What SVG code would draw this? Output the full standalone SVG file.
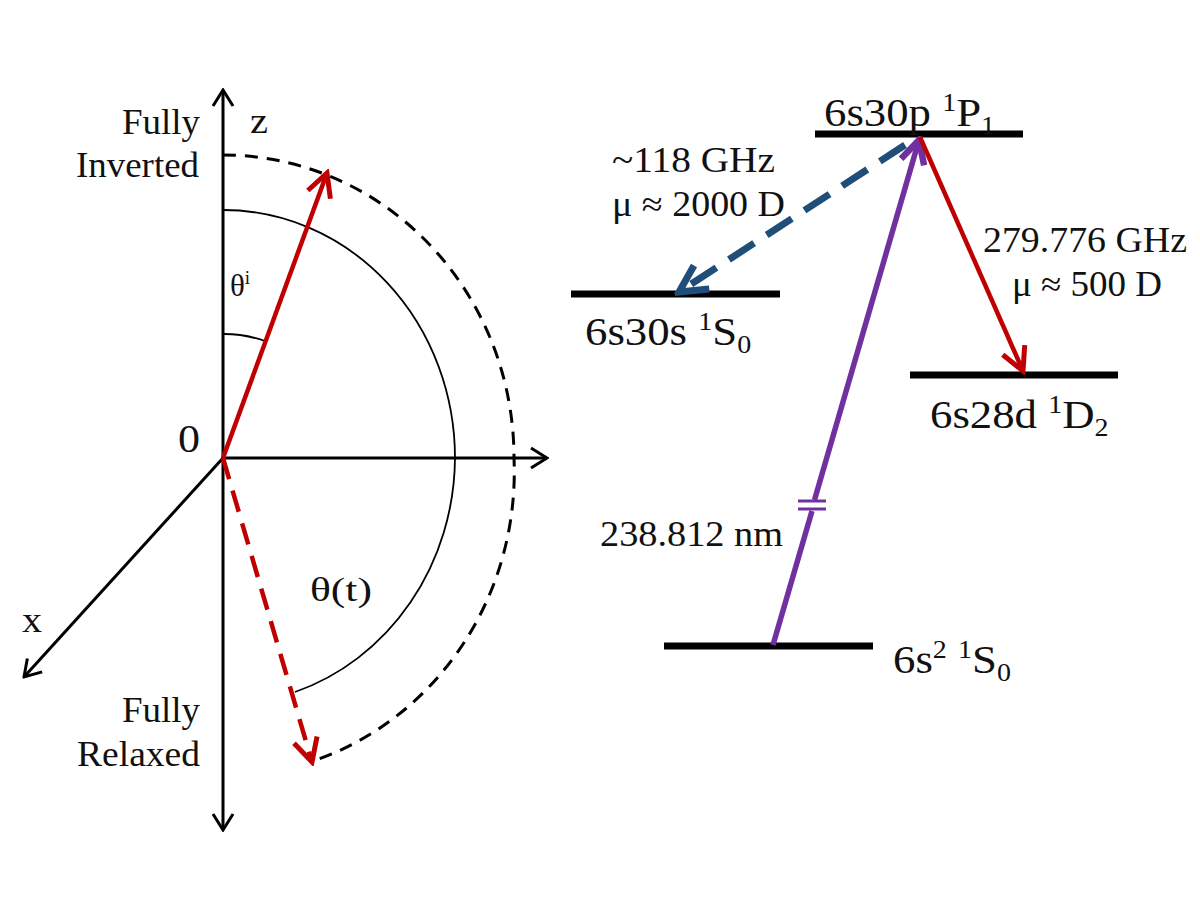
<svg xmlns="http://www.w3.org/2000/svg" width="1200" height="900" viewBox="0 0 1200 900">
<style>
text{font-family:"Liberation Serif","Times New Roman",serif;fill:#111}
.lab{font-size:35px}
.ann{font-size:35px}
.lvl{font-size:40px}
.sup{font-size:25px}
.axis{stroke:#000;stroke-width:3;fill:none}
.level{stroke:#000;stroke-width:7}
</style>
<defs>
<marker id="vk" viewBox="0 0 20 24" refX="18" refY="12" markerWidth="20" markerHeight="24" markerUnits="userSpaceOnUse" orient="auto-start-reverse">
<path d="M2,2 L18,12 L2,22" fill="none" stroke="#000" stroke-width="3"/>
</marker>
<marker id="vr" viewBox="0 0 30 30" refX="26" refY="15" markerWidth="30" markerHeight="30" markerUnits="userSpaceOnUse" orient="auto">
<path d="M3,3 L26,15 L3,27" fill="none" stroke="#c00000" stroke-width="5"/>
</marker>
<marker id="vp" viewBox="0 0 30 30" refX="26" refY="15" markerWidth="30" markerHeight="30" markerUnits="userSpaceOnUse" orient="auto">
<path d="M3,3 L26,15 L3,27" fill="none" stroke="#7030a0" stroke-width="6.5"/>
</marker>
<marker id="vb" viewBox="0 0 36 36" refX="31" refY="18" markerWidth="36" markerHeight="36" markerUnits="userSpaceOnUse" orient="auto">
<path d="M4,4 L31,18 L4,32" fill="none" stroke="#1f4e79" stroke-width="7"/>
</marker>
</defs>

<g id="bloch">
<g id="axes">
<line class="axis" x1="223" y1="90" x2="223" y2="830" marker-start="url(#vk)" marker-end="url(#vk)"/>
<line class="axis" x1="223" y1="458" x2="547" y2="458" marker-end="url(#vk)"/>
<line class="axis" x1="223" y1="458" x2="24" y2="677" marker-end="url(#vk)"/>
</g>
<path id="arc-outer" d="M223,155 A291,303 0 0 1 514,458 A291,304 0 0 1 316,760" fill="none" stroke="#000" stroke-width="3" stroke-dasharray="13,9"/>
<path id="arc-inner" d="M223,210 A232,248 0 0 1 455,458 A232,248 0 0 1 295,692" fill="none" stroke="#000" stroke-width="1.8"/>
<path id="arc-theta-i" d="M223,334 A124,124 0 0 1 265,341" fill="none" stroke="#000" stroke-width="1.8"/>
<line id="vec-initial" x1="223" y1="458" x2="327" y2="173" stroke="#c00000" stroke-width="4.5" marker-end="url(#vr)"/>
<line id="vec-final" x1="223" y1="458" x2="312" y2="762" stroke="#c00000" stroke-width="4.5" stroke-dasharray="22,12" marker-end="url(#vr)"/>
<text class="lab" x="122" y="134" textLength="78" lengthAdjust="spacingAndGlyphs">Fully</text>
<text class="lab" x="76" y="177" textLength="123" lengthAdjust="spacingAndGlyphs">Inverted</text>
<text class="lab" x="250" y="133" textLength="18" lengthAdjust="spacingAndGlyphs">z</text>
<text x="178" y="452" style="font-size:40px" textLength="22" lengthAdjust="spacingAndGlyphs">0</text>
<text x="230" y="296" style="font-size:31px">θ<tspan dy="-12" style="font-size:19px">i</tspan></text>
<text x="310" y="601" style="font-size:33px" textLength="62" lengthAdjust="spacingAndGlyphs">θ(t)</text>
<text class="lab" x="22" y="632" textLength="20" lengthAdjust="spacingAndGlyphs">x</text>
<text class="lab" x="122" y="722" textLength="78" lengthAdjust="spacingAndGlyphs">Fully</text>
<text class="lab" x="77" y="766" textLength="123" lengthAdjust="spacingAndGlyphs">Relaxed</text>
</g>

<g id="level-6s30p">
<line class="level" x1="815" y1="134" x2="1023" y2="134"/>
<text class="lvl" transform="translate(824,126) scale(1.12,1)">6s30p <tspan class="sup" dy="-15">1</tspan><tspan dy="15">P</tspan><tspan class="sup" dy="8">1</tspan></text>
</g>
<g id="level-6s30s">
<line class="level" x1="571" y1="294" x2="780" y2="294"/>
<text class="lvl" transform="translate(585,345) scale(1.12,1)">6s30s <tspan class="sup" dy="-15">1</tspan><tspan dy="15">S</tspan><tspan class="sup" dy="8">0</tspan></text>
</g>
<g id="level-6s28d">
<line class="level" x1="910" y1="375" x2="1118" y2="375"/>
<text class="lvl" transform="translate(930,428) scale(1.12,1)">6s28d <tspan class="sup" dy="-15">1</tspan><tspan dy="15">D</tspan><tspan class="sup" dy="8">2</tspan></text>
</g>
<g id="level-6s2">
<line class="level" x1="664" y1="646" x2="873" y2="646"/>
<text class="lvl" transform="translate(893,673) scale(1.12,1)">6s<tspan class="sup" dy="-15">2</tspan><tspan dy="15"> </tspan><tspan class="sup" dy="-15">1</tspan><tspan dy="15">S</tspan><tspan class="sup" dy="8">0</tspan></text>
</g>

<g id="connectors">
<g id="uv-excitation">
<line x1="773" y1="645" x2="812" y2="511" stroke="#7030a0" stroke-width="5.5"/>
<line x1="814.5" y1="500" x2="919" y2="140" stroke="#7030a0" stroke-width="5.5" marker-end="url(#vp)"/>
<line x1="798" y1="501" x2="826" y2="501" stroke="#7030a0" stroke-width="3"/>
<line x1="798" y1="509" x2="826" y2="509" stroke="#7030a0" stroke-width="3"/>
</g>
<line id="mw-118" x1="905" y1="145" x2="679" y2="292" stroke="#1f4e79" stroke-width="7" stroke-dasharray="30,15" marker-end="url(#vb)"/>
<line id="mw-279" x1="920" y1="137" x2="1023" y2="371" stroke="#c00000" stroke-width="4.5" marker-end="url(#vr)"/>
</g>

<g id="labels">
<text class="ann" x="612" y="172" textLength="163" lengthAdjust="spacingAndGlyphs">~118 GHz</text>
<text class="ann" x="612" y="216" textLength="173" lengthAdjust="spacingAndGlyphs">μ ≈ 2000 D</text>
<text class="ann" x="983" y="252" textLength="204" lengthAdjust="spacingAndGlyphs">279.776 GHz</text>
<text class="ann" x="1012" y="296" textLength="150" lengthAdjust="spacingAndGlyphs">μ ≈ 500 D</text>
<text class="ann" x="600" y="546" textLength="183" lengthAdjust="spacingAndGlyphs">238.812 nm</text>
</g>
</svg>
